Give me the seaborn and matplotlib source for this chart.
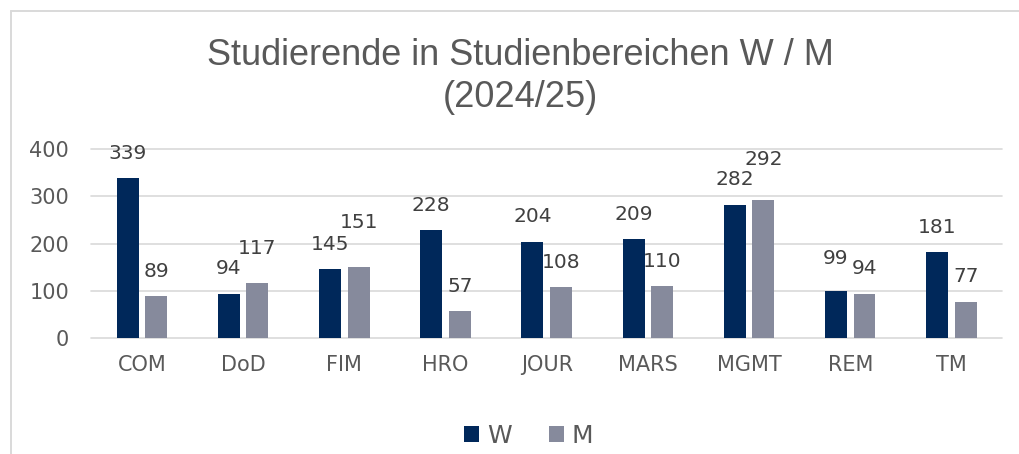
import matplotlib
matplotlib.use("Agg")
import matplotlib.pyplot as plt
import seaborn as sns
import pandas as pd
from matplotlib.lines import Line2D
from matplotlib.patches import Patch

categories = ["COM", "DoD", "FIM", "HRO", "JOUR", "MARS", "MGMT", "REM", "TM"]
w_values = [339, 94, 145, 228, 204, 209, 282, 99, 181]
m_values = [89, 117, 151, 57, 108, 110, 292, 94, 77]
series = ["W", "M"]
y_ticks = [0, 100, 200, 300, 400]
title_lines = ["Studierende in Studienbereichen W / M", "(2024/25)"]

NAVY = "#00285A"
GRAY = "#868A9C"
TXT = "#595959"
LBL = "#404040"
GRID = "#D9D9D9"

df = pd.DataFrame({
    "Bereich": categories * 2,
    "Geschlecht": [series[0]] * len(categories) + [series[1]] * len(categories),
    "Anzahl": w_values + m_values,
})

sns.set_theme(style="white")
plt.rcParams["font.family"] = ["DejaVu Sans"]

fig = plt.figure(figsize=(10.19, 4.54), dpi=100)
ax = fig.add_axes([0.0897, 0.2555, 0.8936, 0.4163])

sns.barplot(data=df, x="Bereich", y="Anzahl", hue="Geschlecht",
            order=categories, hue_order=series,
            palette={"W": NAVY, "M": GRAY}, saturation=1,
            width=0.564, gap=0.23, linewidth=0, ax=ax, legend=False)

ax.set_ylim(0, 400)
ax.set_yticks(y_ticks)
ax.set_xlabel("")
ax.set_ylabel("")
ax.set_axisbelow(True)
ax.yaxis.grid(True, color=GRID, linewidth=1.2)
for gl in ax.get_ygridlines():
    gl.set_clip_on(False)
for s in ax.spines.values():
    s.set_visible(False)
ax.tick_params(axis="y", length=0, pad=16, labelsize=15, labelcolor=TXT)
ax.tick_params(axis="x", length=0, pad=12, labelsize=15, labelcolor=TXT)

# data labels (extra lift in points where labels were moved to avoid overlap)
extra = {("DoD", 1): 6.5, ("FIM", 1): 14, ("MGMT", 1): 11.5, ("REM", 0): 6}
for si, cont in enumerate(ax.containers):
    vals = w_values if si == 0 else m_values
    for ci, bar in enumerate(cont.patches):
        lift = extra.get((categories[ci], si), 0)
        ax.annotate(f"{vals[ci]}",
                    xy=(bar.get_x() + bar.get_width() / 2, bar.get_height()),
                    xytext=(0, 11 + lift), textcoords="offset points",
                    ha="center", va="bottom", fontsize=14.5, color=LBL,
                    annotation_clip=False)

for line, ybase in zip(title_lines, [1 - 65 / 454, 1 - 107 / 454]):
    fig.text(0.5103, ybase, line, ha="center", va="baseline",
             fontsize=26, color=TXT, family=["Liberation Sans", "DejaVu Sans"])

handles = [Patch(facecolor=NAVY, edgecolor="none"), Patch(facecolor=GRAY, edgecolor="none")]
fig.legend(handles, series, loc="center", bbox_to_anchor=(0.519, 0.04),
           ncol=2, frameon=False, fontsize=18, labelcolor=TXT,
           handlelength=0.6, handleheight=0.6, handletextpad=0.3,
           columnspacing=1.5)

# chart border (top and left edges visible)
fig.add_artist(Line2D([10.5 / 1019, 1.0], [1 - 11 / 454] * 2, color=GRID, linewidth=1.4,
                      transform=fig.transFigure))
fig.add_artist(Line2D([10.5 / 1019] * 2, [0.0, 1 - 11 / 454], color=GRID, linewidth=1.4,
                      transform=fig.transFigure))

fig.savefig("out.png", dpi=100)
